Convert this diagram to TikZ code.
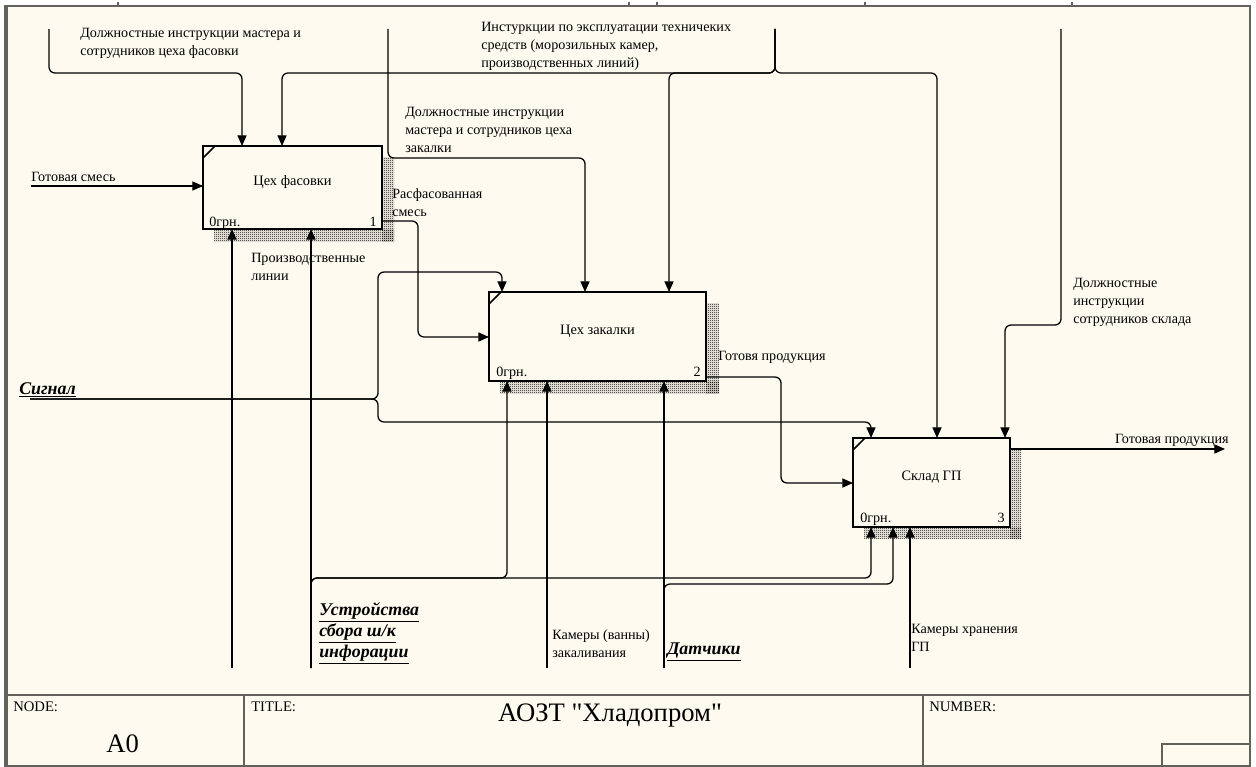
\documentclass[tikz,border=0pt]{standalone}
\usepackage{fontspec}
\setmainfont{Liberation Serif}[Ligatures=TeXOff]
\usetikzlibrary{arrows.meta,calc,patterns}
\definecolor{bg}{RGB}{254,250,240}
\definecolor{fr}{RGB}{98,98,92}
\pgfdeclarelayer{back}
\pgfsetlayers{back,main}
\pgfdeclarepatternformonly{finecheck}{\pgfpointorigin}{\pgfqpoint{1.5pt}{1.5pt}}{\pgfqpoint{1.5pt}{1.5pt}}{%
  \pgfpathrectangle{\pgfpointorigin}{\pgfqpoint{0.75pt}{0.75pt}}%
  \pgfpathrectangle{\pgfqpoint{0.75pt}{0.75pt}}{\pgfqpoint{0.75pt}{0.75pt}}%
  \pgfusepath{fill}}
\begin{document}
\begin{tikzpicture}[x=0.75pt,y=-0.75pt,
  frm/.style={draw=fr,line width=1.5pt},
  conn/.style={draw=black,line width=0.95pt,rounded corners=4.5pt},
  arr/.style={conn,-{Triangle[length=8pt,width=6.8pt]}},
  box/.style={draw=black,line width=2.2pt,fill=bg,inner sep=0pt,outer sep=0pt,
    anchor=north west,text height=7pt,text depth=10.75pt,font=\fontsize{10.8}{12}\selectfont},
  corner/.style={draw=black,line width=1.3pt},
  lbl/.style={font=\fontsize{10.6}{13.5}\selectfont,align=left,inner sep=0pt,anchor=north west},
  sig/.style={font=\fontsize{13.4}{16}\selectfont\bfseries\itshape,align=left,inner sep=0pt,anchor=north west},
  frmtxt/.style={font=\fontsize{11}{12}\selectfont,inner sep=0pt,anchor=north west},
  shade/.style={pattern=finecheck,pattern color=black}
]
\useasboundingbox (0,0) rectangle (1256,767);
\begin{pgfonlayer}{back}
\fill[white] (0,0) rectangle (1256,767);
\fill[bg] (6,6) rectangle (1250,766);
\end{pgfonlayer}

% frame
\draw[frm] (6,6) -- (1250,6) -- (1250,766) -- (6,766);
\draw[draw=fr,line width=2.4pt] (6,5) -- (6,767);
\draw[frm] (6,695) -- (1250,695);
\draw[frm] (244,695) -- (244,766);
\draw[frm] (923,695) -- (923,766);
\draw[frm] (1162,766) |- (1250,744);
\foreach \t in {118,629,657,865,1072} \draw[draw=fr,line width=0.9pt] (\t,2) -- (\t,6);

% boxes
\node[box,minimum width={179*0.75pt},minimum height={83*0.75pt}] (b1) at (203,146) {Цех фасовки};
\node[box,minimum width={217*0.75pt},minimum height={89*0.75pt}] (b2) at (489,292) {Цех закалки};
\node[box,minimum width={157*0.75pt},minimum height={89*0.75pt}] (b3) at (853,438) {Склад ГП};

\begin{pgfonlayer}{back}
\fill[shade] ($(b1.north east)+(0,11)$) rectangle ($(b1.south east)+(12,12)$);
\fill[shade] ($(b1.south west)+(11,0)$) rectangle ($(b1.south east)+(12,12)$);
\fill[shade] ($(b2.north east)+(0,11)$) rectangle ($(b2.south east)+(13,12)$);
\fill[shade] ($(b2.south west)+(11,0)$) rectangle ($(b2.south east)+(13,12)$);
\fill[shade] ($(b3.north east)+(0,11)$) rectangle ($(b3.south east)+(11,11)$);
\fill[shade] ($(b3.south west)+(11,0)$) rectangle ($(b3.south east)+(11,11)$);
\end{pgfonlayer}

\foreach \b in {b1,b2,b3}{
  \draw[corner] ($(\b.north west)+(0,12)$) -- ($(\b.north west)+(12,0)$);
}
\node[lbl,anchor=base west] (g1) at ($(b1.south west)+(6,-3)$) {0грн.};
\node[lbl,anchor=base east] (n1) at ($(b1.south east)+(-5,-3)$) {1};
\node[lbl,anchor=base west] (g2) at ($(b2.south west)+(7,-5)$) {0грн.};
\node[lbl,anchor=base east] (n2) at ($(b2.south east)+(-5,-5)$) {2};
\node[lbl,anchor=base west] (g3) at ($(b3.south west)+(7,-5)$) {0грн.};
\node[lbl,anchor=base east] (n3) at ($(b3.south east)+(-5,-5)$) {3};

% free ends
\coordinate (sA) at (49,29);
\coordinate (sI) at (775,29);
\coordinate (sZ) at (388,29);
\coordinate (sS) at (1061,29);
\coordinate (sIn) at (31,186);
\coordinate (sSig) at (30,399);
\coordinate (eOut) at (1225,449);
\coordinate (mP) at (232,668);
\coordinate (mU) at (311,668);
\coordinate (mK) at (547,668);
\coordinate (mD) at (664,668);
\coordinate (mH) at (910,668);

% controls
\draw[arr] (sA) -- (49,73) -- (242,73) -- ($(b1.north west)+(39,0)$);
\draw[arr] (sI) -- (775,73) -- (282,73) -- ($(b1.north west)+(79,0)$);
\draw[arr] (sI) -- (775,73) -- (669,73) -- ($(b2.north west)+(180,0)$);
\draw[arr] (sI) -- (775,73) -- (937,73) -- ($(b3.north west)+(84,0)$);
\draw[arr] (sZ) -- (388,158) -- (585,158) -- ($(b2.north west)+(96,0)$);
\draw[arr] (sS) -- (1061,325) -- (1005,325) -- ($(b3.north west)+(152,0)$);
\draw[arr] (sSig) -- (378,399) -- (378,272) -- (502,272) -- ($(b2.north west)+(13,0)$);
\draw[arr] (sSig) -- (378,399) -- (378,422) -- (871,422) -- ($(b3.north west)+(18,0)$);

% inputs / outputs
\draw[arr] (sIn) -- ($(b1.north west)+(0,40)$);
\draw[arr] ($(b1.north east)+(0,75)$) -- (418,221) -- (418,337) -- ($(b2.north west)+(0,45)$);
\draw[arr] ($(b2.north east)+(0,85)$) -- (781,377) -- (781,483) -- ($(b3.north west)+(0,45)$);
\draw[arr] ($(b3.north east)+(0,11)$) -- (eOut);

% mechanisms
\draw[arr] (mP) -- ($(b1.south west)+(29,0)$);
\draw[arr] (mU) -- ($(b1.south west)+(108,0)$);
\draw[arr] (mU) -- (311,578) -- (507,578) -- ($(b2.south west)+(18,0)$);
\draw[arr] (mU) -- (311,578) -- (871,578) -- ($(b3.south west)+(18,0)$);
\draw[arr] (mK) -- ($(b2.south west)+(58,0)$);
\draw[arr] (mD) -- ($(b2.south west)+(175,0)$);
\draw[arr] (mD) -- (664,584) -- (893,584) -- ($(b3.south west)+(40,0)$);
\draw[arr] (mH) -- ($(b3.south west)+(57,0)$);

% labels
\node[lbl] (tA) at (80,28) {Должностные инструкции мастера и\\сотрудников цеха фасовки};
\node[lbl] (tI) at (481,22) {Инстуркции по эксплуатации техничеких\\средств (морозильных камер,\\производственных линий)};
\node[lbl] (tZ) at (405,107) {Должностные инструкции\\мастера и сотрудников цеха\\закалки};
\node[lbl] (tS) at (1073,278) {Должностные\\инструкции\\сотрудников склада};
\node[lbl] (tIn) at (31,172) {Готовая смесь};
\node[lbl] (tR) at (392,188) {Расфасованная\\смесь};
\node[lbl] (tP) at (251,253) {Производственные\\линии};
\node[lbl] (tG) at (718,351) {Готовя продукция};
\node[lbl,anchor=north east] (tO) at (1229,434) {Готовая продукция};
\node[lbl] (tK) at (552,629) {Камеры (ванны)\\закаливания};
\node[lbl] (tH) at (911,624) {Камеры хранения\\ГП};
\node[sig] (tSig) at (19,382) {\underline{Сигнал}};
\node[sig] (tU) at (319,602) {\underline{Устройства}\\\underline{сбора ш/к}\\\underline{инфорации}};
\node[sig] (tD) at (667,643) {\underline{Датчики}};

% title block
\node[frmtxt] (fNode) at (13,702) {NODE:};
\node[frmtxt] (fTitle) at (251,702) {TITLE:};
\node[frmtxt] (fNum) at (929,702) {NUMBER:};
\node[font=\fontsize{20}{22}\selectfont,inner sep=0pt,anchor=base west] (fA0) at (106,752) {A0};
\node[font=\fontsize{20}{22}\selectfont,inner sep=0pt,anchor=base] (fT) at (610,721) {АОЗТ "Хладопром"};
\end{tikzpicture}
\end{document}
